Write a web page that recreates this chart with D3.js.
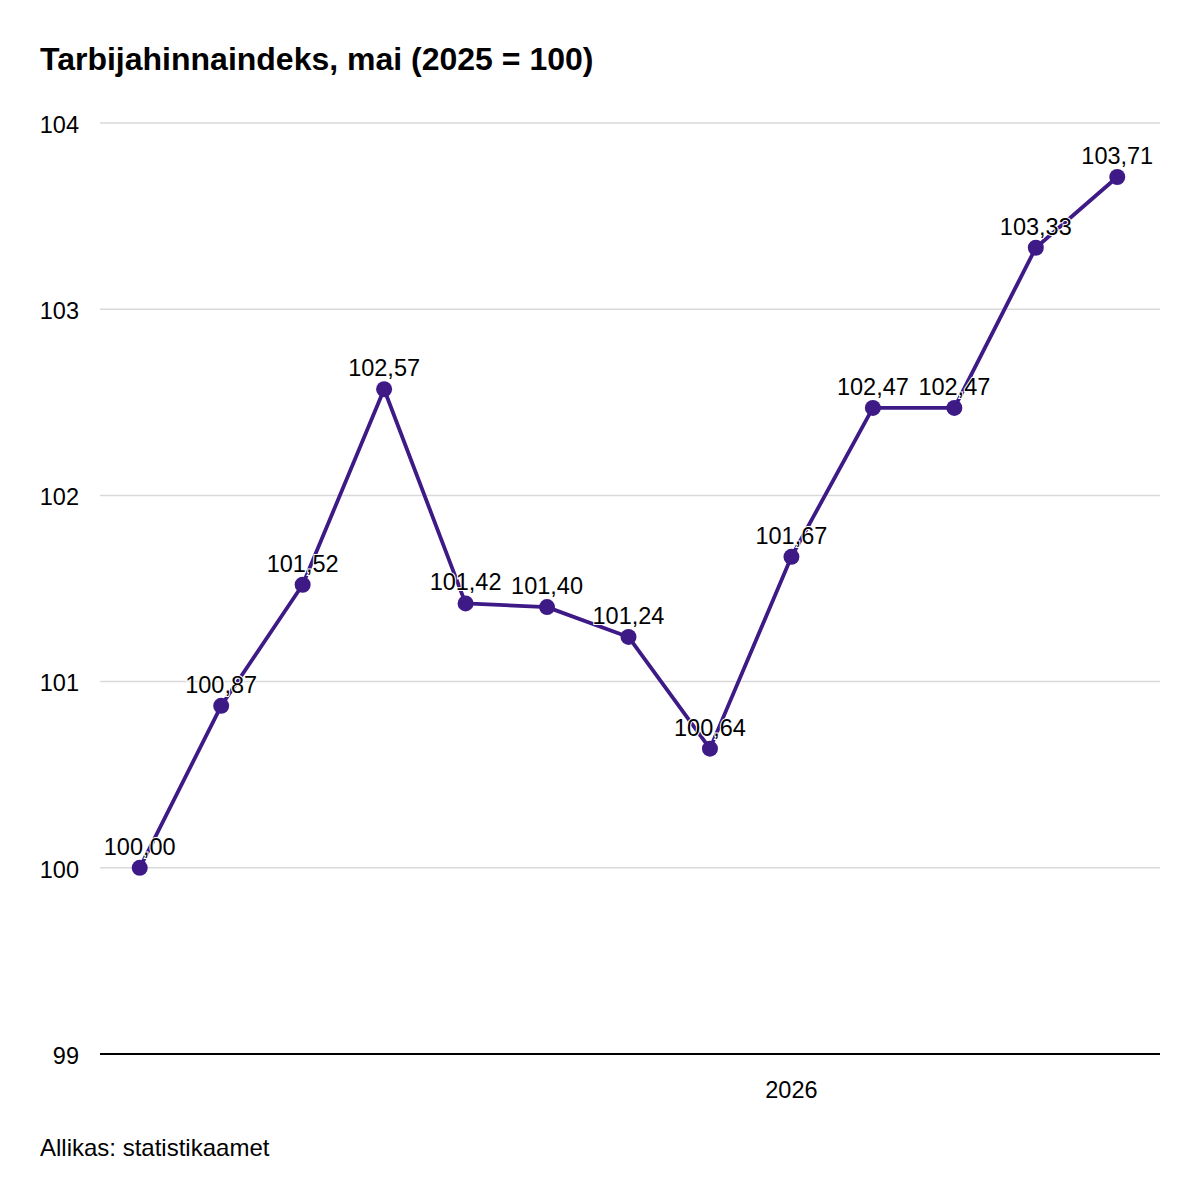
<!DOCTYPE html>
<html>
<head>
<meta charset="utf-8">
<script src="https://cdn.jsdelivr.net/npm/d3@7"></script>
<style>
  body { margin: 0; background: #fff; }
  svg { font-family: "Liberation Sans", Arial, sans-serif; }
</style>
</head>
<body>
<svg id="chart" width="1200" height="1200"></svg>
<script>
// data
const months = ["2025-05", "2025-06", "2025-07", "2025-08", "2025-09", "2025-10", "2025-11",
  "2025-12", "2026-01", "2026-02", "2026-03", "2026-04", "2026-05"];
const values = [100.00, 100.87, 101.52, 102.57, 101.42, 101.40, 101.24, 100.64, 101.67,
  102.47, 102.47, 103.33, 103.71];
const yTicks = [99, 100, 101, 102, 103, 104];
const xTickLabels = [{ month: "2026-01", label: "2026" }];

const COLOR = "#3d1a86";
const svg = d3.select("#chart");
const M = { left: 100, right: 1160, top: 123, bottom: 1054 };

const x = d3.scalePoint().domain(months).range([M.left - 1, M.right - 2]).padding(0.5);
const y = d3.scaleLinear().domain([99, 104]).range([M.bottom, M.top]);

// title
svg.append("text")
  .attr("x", 40).attr("y", 70)
  .attr("font-size", 32).attr("font-weight", "bold")
  .text("Tarbijahinnaindeks, mai (2025 = 100)");

// grid lines
svg.append("g")
  .selectAll("line")
  .data(yTicks.filter((d) => d !== 99))
  .join("line")
  .attr("x1", M.left).attr("x2", M.right)
  .attr("y1", (d) => y(d)).attr("y2", (d) => y(d))
  .attr("stroke", "#d9d9d9").attr("stroke-width", 1.5);

// y labels
svg.append("g")
  .selectAll("text")
  .data(yTicks)
  .join("text")
  .attr("x", 79).attr("y", (d) => y(d))
  .attr("dy", "0.42em")
  .attr("text-anchor", "end")
  .attr("font-size", 23.5)
  .text((d) => d);

// baseline
svg.append("line")
  .attr("x1", M.left).attr("x2", M.right)
  .attr("y1", y(99)).attr("y2", y(99))
  .attr("stroke", "#000").attr("stroke-width", 2);

// x labels
svg.append("g")
  .selectAll("text")
  .data(xTickLabels)
  .join("text")
  .attr("x", (d) => x(d.month)).attr("y", 1098)
  .attr("text-anchor", "middle")
  .attr("font-size", 23.5)
  .text((d) => d.label);

// line
const line = d3.line().x((d, i) => x(months[i])).y((d) => y(d));
svg.append("path")
  .datum(values)
  .attr("d", line)
  .attr("fill", "none")
  .attr("stroke", COLOR).attr("stroke-width", 3.8)
  .attr("stroke-linejoin", "round");

// dots
svg.append("g")
  .selectAll("circle")
  .data(values)
  .join("circle")
  .attr("cx", (d, i) => x(months[i])).attr("cy", (d) => y(d))
  .attr("r", 8)
  .attr("fill", COLOR);

// value labels with white halo
const fmt = (v) => v.toFixed(2).replace(".", ",");
svg.append("g")
  .selectAll("text")
  .data(values)
  .join("text")
  .attr("x", (d, i) => x(months[i])).attr("y", (d) => y(d) - 13)
  .attr("text-anchor", "middle")
  .attr("font-size", 23.5)
  .attr("stroke", "#fff").attr("stroke-width", 2)
  .attr("paint-order", "stroke")
  .attr("fill", "#000")
  .text(fmt);

// source
svg.append("text")
  .attr("x", 40).attr("y", 1156)
  .attr("font-size", 24)
  .text("Allikas: statistikaamet");
</script>
</body>
</html>
